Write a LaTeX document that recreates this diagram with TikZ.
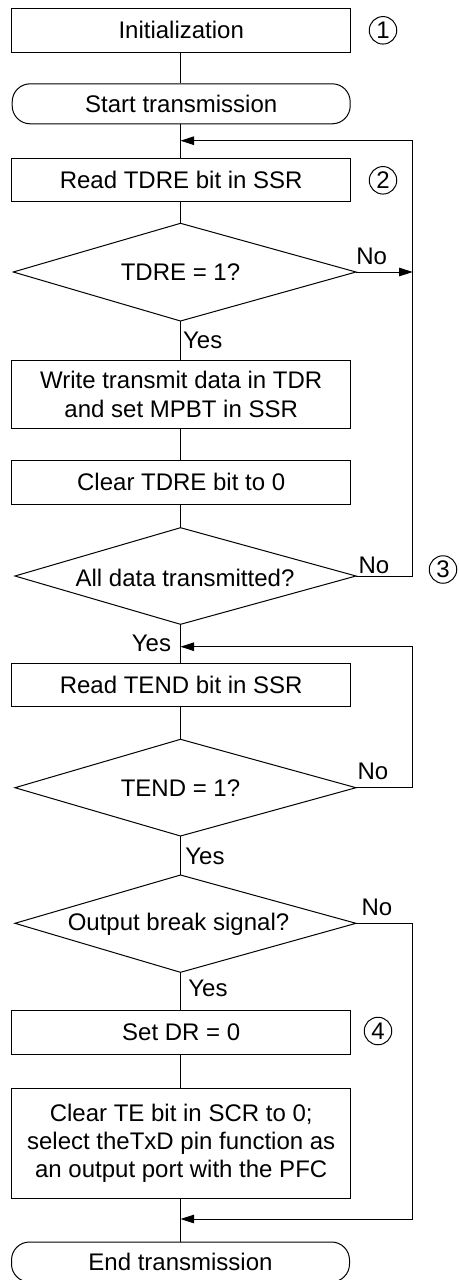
\documentclass[tikz,border=0pt]{standalone}
\usepackage{fontspec}
\setmainfont{Liberation Sans}
\usetikzlibrary{arrows.meta,positioning}
\begin{document}
\begin{tikzpicture}[x=1pt,y=-1pt,
  every node/.style={font=\fontsize{24}{28.3}\selectfont, inner sep=0pt},
  line/.style={draw=black, line width=1pt},
  arr/.style={line, -{Triangle[length=13.5pt,width=8.5pt]}},
  stepbox/.style={draw=black, line width=1pt, rectangle, minimum width=339pt, align=center},
  termbox/.style={draw=black, line width=1pt, rectangle, rounded corners=18pt, minimum width=338pt, minimum height=40pt},
  numc/.style={draw=black, line width=1pt, circle, minimum size=27.5pt},
  lbl/.style={}
]
\useasboundingbox (0,0) rectangle (458,1280);
\fill[white] (0,0) rectangle (458,1280);

% boxes
\node[stepbox, minimum height=44pt] (init) at (181.2,30.3) {Initialization};
\node[termbox] (start) at (181.2,103.8) {Start transmission};
\node[stepbox, minimum height=42.7pt] (rtdre) at (181.2,179.7) {Read TDRE bit in SSR};
\node[stepbox, minimum height=67.6pt] (write) at (181.2,394.5) {Write transmit data in TDR\\and set MPBT in SSR};
\node[stepbox, minimum height=44.3pt] (ctdre) at (181.2,482.2) {Clear TDRE bit to 0};
\node[stepbox, minimum height=43.4pt] (rtend) at (181.2,685) {Read TEND bit in SSR};
\node[stepbox, minimum height=43.6pt] (setdr) at (181.2,1032.5) {Set DR = 0};
\node[stepbox, minimum height=110pt] (clrte) at (181.2,1143.3) {Clear TE bit in SCR to 0;\\select theTxD pin function as\\an output port with the PFC};
\node[termbox] (endt) at (180.5,1262) {End transmission};

% diamonds
\coordinate (d1t) at (180.5,223.3); \coordinate (d1r) at (356,272);
\coordinate (d1b) at (180.5,321);   \coordinate (d1l) at (13.3,272);
\draw[line] (d1t) -- (d1r) -- (d1b) -- (d1l) -- cycle;
\node (d1) at (180.5,272) {TDRE = 1?};

\coordinate (d2t) at (180.5,527.7); \coordinate (d2r) at (356,576);
\coordinate (d2b) at (180.5,624.3); \coordinate (d2l) at (15,576);
\draw[line] (d2t) -- (d2r) -- (d2b) -- (d2l) -- cycle;
\node (d2) at (185,578) {All data transmitted?};

\coordinate (d3t) at (180.5,739.3); \coordinate (d3r) at (356,787.7);
\coordinate (d3b) at (180.5,836);   \coordinate (d3l) at (15,787.7);
\draw[line] (d3t) -- (d3r) -- (d3b) -- (d3l) -- cycle;
\node (d3) at (180.5,787.7) {TEND = 1?};

\coordinate (d4t) at (180.5,875);   \coordinate (d4r) at (356,923.3);
\coordinate (d4b) at (180.5,972.3); \coordinate (d4l) at (15,923.3);
\draw[line] (d4t) -- (d4r) -- (d4b) -- (d4l) -- cycle;
\node (d4) at (178.5,924) {Output break signal?};

% merge points
\coordinate (m1) at (180.5,140.7);
\coordinate (m2) at (180.5,646.7);
\coordinate (m3) at (180.5,1219);
\coordinate (rx1) at (412.7,272);

% main flow
\draw[line] (init.south -| m1) -- (start.north -| m1);
\draw[line] (start.south -| m1) -- (rtdre.north -| m1);
\draw[line] (rtdre.south -| m1) -- (d1t);
\draw[line] (d1b) -- (write.north -| m1);
\draw[line] (write.south -| m1) -- (ctdre.north -| m1);
\draw[line] (ctdre.south -| m1) -- (d2t);
\draw[line] (d2b) -- (rtend.north -| m1);
\draw[line] (rtend.south -| m1) -- (d3t);
\draw[line] (d3b) -- (d4t);
\draw[line] (d4b) -- (setdr.north -| m1);
\draw[line] (setdr.south -| m1) -- (clrte.north -| m1);
\draw[line] (clrte.south -| m1) -- (endt.north -| m1);

% loops
\draw[arr] (d1r) -- (rx1);
\draw[arr] (d2r) -- (412.7,576) -- (412.7,140.7) -- (m1);
\draw[arr] (d3r) -- (412.7,787.7) -- (412.7,646.7) -- (m2);
\draw[arr] (d4r) -- (412.7,923.3) -- (412.7,1219) -- (m3);

% labels
\node[lbl] (no1) at (371.7,256.5) {No};
\node[lbl] (no2) at (374,565.5) {No};
\node[lbl] (no3) at (373,771) {No};
\node[lbl] (no4) at (377,907.3) {No};
\node[lbl] (yes1) at (202.7,340) {Yes};
\node[lbl] (yes2) at (151.5,643) {Yes};
\node[lbl] (yes3) at (205,856) {Yes};
\node[lbl] (yes4) at (208,988) {Yes};

% circled numbers
\node[numc] (c1) at (383,30.3) {1};
\node[numc] (c2) at (383,180.3) {2};
\node[numc] (c3) at (443,569.5) {3};
\node[numc] (c4) at (378,1031) {4};
\end{tikzpicture}
\end{document}
